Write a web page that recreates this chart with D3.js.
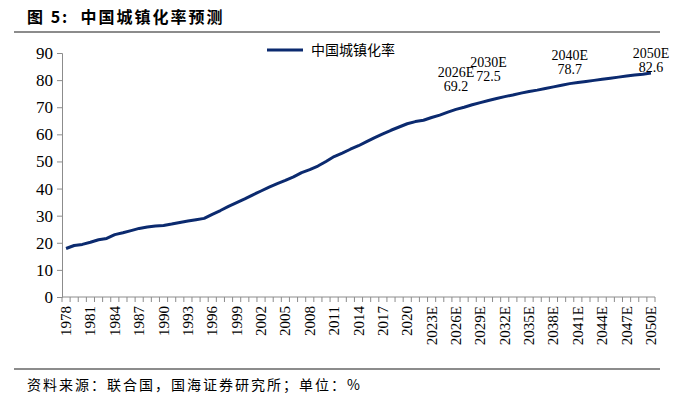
<!DOCTYPE html>
<html lang="zh">
<head>
    <meta charset="UTF-8">
    <title>中国城镇化率预测</title>
    <script src="https://cdn.jsdelivr.net/npm/d3@7"></script>
    <style>
        body { margin: 0; background: #fff; }
        svg { display: block; }
        .serif { font-family: "Liberation Serif", "DejaVu Serif", serif; }
        .cjk { font-family: "Noto Sans CJK SC", sans-serif; white-space: pre; }
    </style>
</head>
<body>
    <svg id="chart" width="674" height="399"></svg>
    <script>
        // 年份 1978 - 2050，2023 起为预测
        const years = d3.range(1978, 2051)
        const yearLabels = years.map(y => y >= 2023 ? y + "E" : String(y))
        const rates = [
            17.9, 19.0, 19.4, 20.2, 21.1, 21.6, 23.0, 23.7, 24.5, 25.3,
            25.8, 26.2, 26.4, 26.9, 27.5, 28.0, 28.5, 29.0, 30.5, 31.9,
            33.4, 34.8, 36.2, 37.7, 39.1, 40.5, 41.8, 43.0, 44.3, 45.9,
            47.0, 48.3, 50.0, 51.8, 53.1, 54.5, 55.8, 57.3, 58.8, 60.2,
            61.5, 62.7, 63.9, 64.7, 65.2, 66.2, 67.1, 68.2, 69.2, 70.0,
            70.9, 71.7, 72.5, 73.2, 73.9, 74.5, 75.2, 75.8, 76.3, 76.9,
            77.5, 78.1, 78.7, 79.1, 79.5, 79.9, 80.3, 80.7, 81.1, 81.5,
            81.9, 82.2, 82.6
        ]
        const noteYears = [2026, 2030, 2040, 2050]
        const noteValues = [69.2, 72.5, 78.7, 82.6]
        const yTicks = [0, 10, 20, 30, 40, 50, 60, 70, 80, 90]

        const svg = d3.select("#chart")
        const navy = "#0b2a6f"
        const grey = "#8c8c8c"

        // 标题与分隔线
        svg.append("text")
            .attr("class", "cjk")
            .attr("x", 27).attr("y", 23)
            .attr("font-size", 16).attr("font-weight", "bold")
            .attr("letter-spacing", 2)
            .text("图 5:  中国城镇化率预测")
        svg.append("line")
            .attr("x1", 14).attr("x2", 660).attr("y1", 32).attr("y2", 32)
            .attr("stroke", grey).attr("stroke-width", 2)
        svg.append("line")
            .attr("x1", 14).attr("x2", 660).attr("y1", 369).attr("y2", 369)
            .attr("stroke", grey).attr("stroke-width", 2)
        svg.append("text")
            .attr("class", "cjk")
            .attr("x", 27).attr("y", 390)
            .attr("font-size", 14)
            .attr("letter-spacing", 2)
            .text("资料来源：联合国，国海证券研究所；单位：%")

        const x = d3.scaleBand().domain(yearLabels).range([62, 655])
        const y = d3.scaleLinear().domain([0, 90]).range([297, 53])
        const cx = i => x(yearLabels[i]) + x.bandwidth() / 2

        // y 轴
        const yAxis = svg.append("g")
            .attr("transform", "translate(62,0)")
            .call(d3.axisLeft(y).tickValues(yTicks).tickSize(5).tickPadding(4))
        yAxis.select(".domain").attr("stroke", grey)
        yAxis.selectAll(".tick line").attr("stroke", grey)
        yAxis.selectAll("text")
            .attr("class", "serif").attr("font-size", 17).attr("fill", "#000")

        // x 轴，刻度在类别之间
        const xg = svg.append("g").attr("transform", "translate(0,297)")
        xg.append("line")
            .attr("x1", 62).attr("x2", 655)
            .attr("stroke", grey)
        xg.selectAll(".tk")
            .data(d3.range(years.length + 1))
            .enter().append("line")
            .attr("class", "tk")
            .attr("x1", i => 62 + i * x.step()).attr("x2", i => 62 + i * x.step())
            .attr("y1", 0).attr("y2", 5)
            .attr("stroke", grey)
        xg.selectAll(".lbl")
            .data(yearLabels.filter((d, i) => i % 3 === 0))
            .enter().append("text")
            .attr("class", "serif lbl")
            .attr("font-size", 15)
            .attr("text-anchor", "end")
            .attr("dominant-baseline", "central")
            .attr("transform", d => `translate(${x(d) + x.bandwidth() / 2},9) rotate(-90)`)
            .text(d => d)

        // 折线
        const line = d3.line()
            .x((d, i) => cx(i))
            .y(d => y(d))
        svg.append("path")
            .attr("d", line(rates))
            .attr("fill", "none")
            .attr("stroke", navy)
            .attr("stroke-width", 3)
            .attr("stroke-linejoin", "round")

        // 数据标注
        const noteDy = [-18, -19, -10, -1]
        noteYears.forEach((yr, k) => {
            const i = years.indexOf(yr)
            const t = svg.append("text")
                .attr("class", "serif")
                .attr("font-size", 14)
                .attr("text-anchor", "middle")
                .attr("x", cx(i))
                .attr("y", y(noteValues[k]) + noteDy[k])
            t.append("tspan").attr("x", cx(i)).attr("dy", -14).text(yr + "E")
            t.append("tspan").attr("x", cx(i)).attr("dy", 14).text(noteValues[k])
        })

        // 图例
        svg.append("line")
            .attr("x1", 267).attr("x2", 303).attr("y1", 50).attr("y2", 50)
            .attr("stroke", navy).attr("stroke-width", 3)
        svg.append("text")
            .attr("class", "cjk")
            .attr("x", 311).attr("y", 55)
            .attr("font-size", 14)
            .text("中国城镇化率")
    </script>
</body>
</html>
